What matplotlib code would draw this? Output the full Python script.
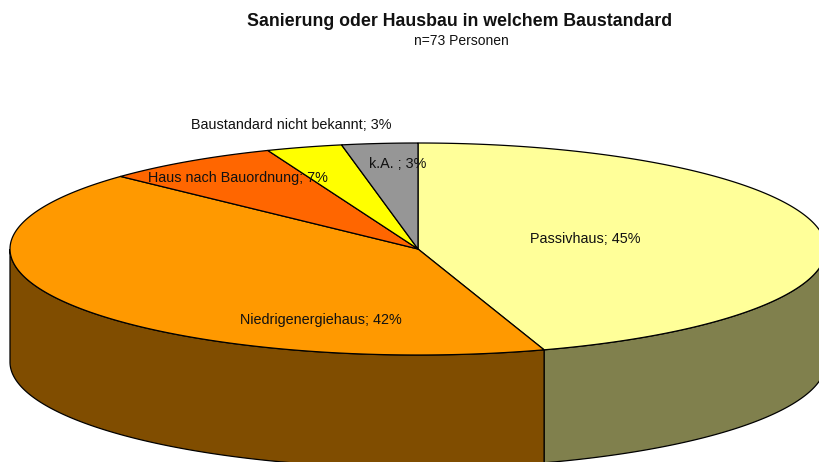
# 3D style pie chart, drawn as ellipse slices plus a side wall

import numpy as np
import matplotlib
matplotlib.use("Agg")
import matplotlib.pyplot as plt

labels = ["Passivhaus", "Niedrigenergiehaus", "Haus nach Bauordnung", "Baustandard nicht bekannt", "k.A. "]
shares = [45, 42, 7, 3, 3]
top_colors = ["#FFFF99", "#FF9900", "#FF6600", "#FFFF00", "#969696"]
side_colors = ["#80804D", "#804D00", "#803300", "#808000", "#4B4B4B"]
label_pos = [(585, 239), (321, 320), (238, 178), (291, 125), (398, 164)]

cx, cy = 418, 249
rx, ry = 408, 106
depth = 113

plt.rcParams["font.family"] = ["Liberation Sans", "DejaVu Sans"]

fig = plt.figure(figsize=(8.19, 4.62), dpi=100)
ax = fig.add_axes([0, 0, 1, 1])
ax.set_xlim(0, 819)
ax.set_ylim(462, 0)
ax.axis("off")


def rim(a, b):
    # points on the ellipse, angles in degrees clockwise from the top
    t = np.radians(np.linspace(a, b, 200))
    return cx + rx * np.sin(t), cy - ry * np.cos(t)


edges = np.concatenate([[0], np.cumsum(shares)]) * 3.6

# side wall, only the front half of the ellipse can be seen
for i in range(len(shares)):
    a = max(edges[i], 90)
    b = min(edges[i + 1], 270)
    if a >= b:
        continue
    x, y = rim(a, b)
    ax.fill(np.r_[x, x[::-1]], np.r_[y, (y + depth)[::-1]], facecolor=side_colors[i],
            edgecolor="black", linewidth=0.9, zorder=1)

# top slices
for i in range(len(shares)):
    x, y = rim(edges[i], edges[i + 1])
    ax.fill(np.r_[cx, x], np.r_[cy, y], facecolor=top_colors[i],
            edgecolor="black", linewidth=0.9, zorder=2)

for i in range(len(shares)):
    ax.text(label_pos[i][0], label_pos[i][1], f"{labels[i]}; {shares[i]}%", fontsize=10.35,
            ha="center", va="center", color="#111111", zorder=3)

ax.text(460, 21, "Sanierung oder Hausbau in welchem Baustandard", fontsize=12.8,
        fontweight="bold", ha="center", va="center", color="#111111")
ax.text(461, 41, "n=73 Personen", fontsize=10, ha="center", va="center", color="#111111")

fig.savefig("out.png", dpi=100)
